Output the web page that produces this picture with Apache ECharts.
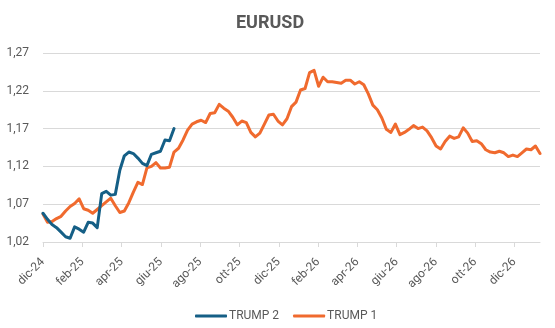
<!DOCTYPE html>
<html>
<head>
<meta charset="utf-8">
<script src="https://cdn.jsdelivr.net/npm/echarts@6/dist/echarts.min.js"></script>
<style>html,body{margin:0;padding:0;background:#fff}#c{width:555px;height:328px}</style>
</head>
<body>
<div id="c"></div>
<script>
// Month tick labels (every 2 months, starting at dic-24)
const tickLabels = ['dic-24','feb-25','apr-25','giu-25','ago-25','ott-25','dic-25','feb-26','apr-26','giu-26','ago-26','ott-26','dic-26'];
const yTicks = [1.02, 1.07, 1.12, 1.17, 1.22, 1.27];
// Weekly EURUSD values, week 0 = start of dic-24 on the axis
const trump2 = [1.058,1.050,1.043,1.039,1.033,1.027,1.025,1.040,1.037,1.033,
  1.046,1.045,1.039,1.084,1.087,1.082,1.083,1.115,1.134,1.139,
  1.137,1.131,1.124,1.121,1.136,1.138,1.140,1.155,1.154,1.170];
const trump1 = [1.057,1.046,1.047,1.051,1.054,1.061,1.067,1.071,1.077,1.064,
  1.062,1.058,1.063,1.068,1.073,1.078,1.068,1.059,1.061,1.072,
  1.086,1.099,1.096,1.118,1.120,1.125,1.118,1.118,1.119,1.139,
  1.144,1.155,1.168,1.176,1.179,1.181,1.178,1.190,1.191,1.202,
  1.197,1.193,1.185,1.175,1.180,1.178,1.165,1.159,1.164,1.176,
  1.188,1.189,1.180,1.175,1.183,1.199,1.205,1.221,1.223,1.244,
  1.247,1.226,1.238,1.232,1.232,1.231,1.230,1.234,1.234,1.229,
  1.232,1.228,1.216,1.201,1.195,1.184,1.169,1.165,1.176,1.162,
  1.165,1.169,1.174,1.170,1.172,1.167,1.158,1.147,1.143,1.153,
  1.160,1.157,1.159,1.171,1.164,1.153,1.154,1.150,1.142,1.139,
  1.138,1.140,1.138,1.133,1.135,1.133,1.138,1.143,1.142,1.147,1.137];

const WEEK_IN_MONTHS = 7 / 30.4375;
const toPts = arr => arr.map((v, i) => [i * WEEK_IN_MONTHS, v]);

const chart = echarts.init(document.getElementById('c'));
chart.setOption({
  animation: false,
  backgroundColor: '#fff',
  title: {
    text: 'EURUSD', left: 265, top: 9, textAlign: 'center',
    textStyle: { fontFamily: 'Roboto', fontSize: 18, fontWeight: 'bold', color: '#595959' }
  },
  grid: { left: 43, right: 15, top: 53, bottom: 86, containLabel: false },
  xAxis: {
    type: 'value', min: 0, max: (trump1.length - 1) * WEEK_IN_MONTHS, interval: 2,
    axisLine: { show: true, lineStyle: { color: '#d9d9d9' } },
    axisTick: { show: true, length: 5, lineStyle: { color: '#d9d9d9' } },
    splitLine: { show: false },
    axisLabel: {
      rotate: 45, margin: 18, color: '#595959', fontFamily: 'Roboto', fontSize: 12,
      showMaxLabel: false,
      formatter: v => { const k = Math.round(v / 2); return (Math.abs(v - 2 * k) < 1e-6 && tickLabels[k]) ? tickLabels[k] : ''; }
    }
  },
  yAxis: {
    type: 'value', min: yTicks[0], max: yTicks[yTicks.length - 1], interval: 0.05,
    axisLine: { show: false }, axisTick: { show: false },
    splitLine: { lineStyle: { color: '#d9d9d9', width: 1 } },
    axisLabel: {
      margin: 14, color: '#595959', fontFamily: 'Roboto', fontSize: 12,
      formatter: v => v.toFixed(2).replace('.', ',')
    }
  },
  legend: {
    left: 190, top: 305, itemWidth: 32, itemHeight: 3, itemGap: 14,
    icon: 'roundRect',
    textStyle: { color: '#595959', fontFamily: 'Roboto', fontSize: 12, padding: [0, 0, 0, -3] },
    data: ['TRUMP 2', 'TRUMP 1']
  },
  series: [
    { name: 'TRUMP 1', type: 'line', data: toPts(trump1), showSymbol: false, z: 2,
      lineStyle: { color: '#F06A2E', width: 3, cap: 'round', join: 'round' }, itemStyle: { color: '#F06A2E' } },
    { name: 'TRUMP 2', type: 'line', data: toPts(trump2), showSymbol: false, z: 3,
      lineStyle: { color: '#155F86', width: 3, cap: 'round', join: 'round' }, itemStyle: { color: '#155F86' } }
  ]
});
</script>
</body>
</html>
